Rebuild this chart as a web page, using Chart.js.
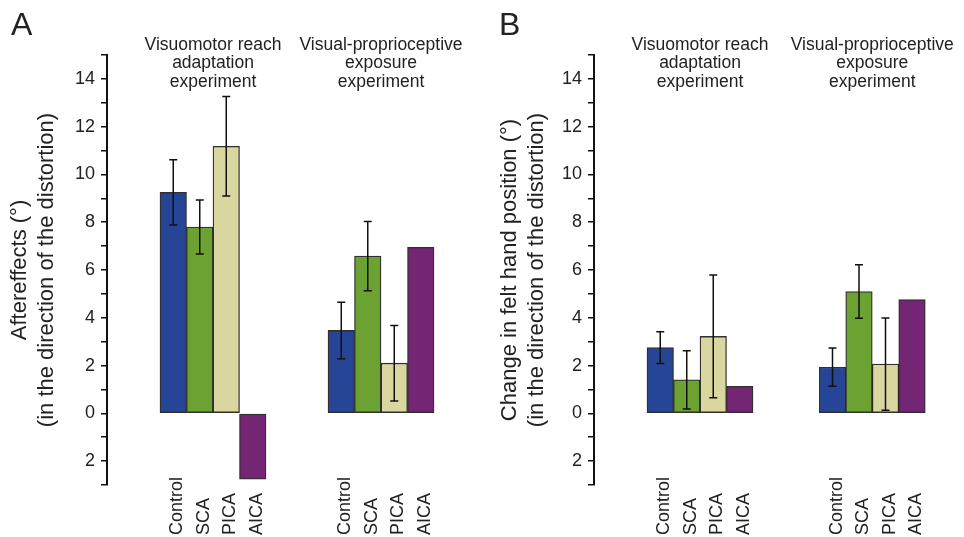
<!DOCTYPE html>
<html>
<head>
<meta charset="utf-8">
<script src="https://cdn.jsdelivr.net/npm/chart.js@4.4.0/dist/chart.umd.min.js"></script>
<style>
  body { margin: 0; background: #fff; }
  #wrap { position: relative; width: 964px; height: 537px; }
  canvas { position: absolute; top: 0; }
  #panelA { left: 0; }
  #panelB { left: 482px; }
</style>
</head>
<body>
<div id="wrap">
  <canvas id="panelA" width="482" height="537"></canvas>
  <canvas id="panelB" width="482" height="537"></canvas>
</div>
<script>
// categories and headings
const groups = ['Control', 'SCA', 'PICA', 'AICA'];
const experimentTitles = [
  ['Visuomotor reach', 'adaptation', 'experiment'],
  ['Visual-proprioceptive', 'exposure', 'experiment']
];

// A: aftereffects (deg), mean and error half-width
const aReach = [9.25, 7.8, 11.18, -2.76];
const aReachErr = [1.37, 1.13, 2.08, null];
const aExposure = [3.47, 6.58, 2.1, 6.95];
const aExposureErr = [1.18, 1.45, 1.58, null];

// B: change in felt hand position (deg)
const bReach = [2.75, 1.4, 3.22, 1.13];
const bReachErr = [0.66, 1.22, 2.57, null];
const bExposure = [1.93, 5.1, 2.06, 4.76];
const bExposureErr = [0.8, 1.12, 1.93, null];

const yMin = -3;
const yMax = 15;

// styles
const groupColors = ['#274597', '#6ca232', '#d9d6a0', '#742573'];
const FONT = "'Liberation Sans', Arial, Helvetica, sans-serif";
const INK = '#222';

function makePanel(cfg) {
    const points = [], colors = [], errs = [], names = [];
    cfg.series.forEach((vals, g) => {
        vals.forEach((v, i) => {
            points.push({ x: g * (groups.length + cfg.groupGap) + i, y: v });
            colors.push(groupColors[i]);
            errs.push(cfg.errors[g][i]);
            names.push(groups[i]);
        });
    });

    const xMin = -0.5 - 2;
    const xMax = 11;
    const slot = 26.5;
    const padRight = 482 - cfg.axisLeft - (xMax - xMin) * slot;

    // error bars, rotated labels, headings, panel letter
    const decor = {
        id: 'decor',
        afterDatasetsDraw(chart) {
            const ctx = chart.ctx;
            const meta = chart.getDatasetMeta(0);
            const y = chart.scales.y;
            ctx.save();

            ctx.strokeStyle = '#111';
            ctx.lineWidth = 1.5;
            meta.data.forEach((bar, k) => {
                const e = errs[k];
                if (e == null) return;
                const v = points[k].y;
                const top = y.getPixelForValue(v + e);
                const bot = y.getPixelForValue(v - e);
                ctx.beginPath();
                ctx.moveTo(bar.x, top); ctx.lineTo(bar.x, bot);
                ctx.moveTo(bar.x - 4, top); ctx.lineTo(bar.x + 4, top);
                ctx.moveTo(bar.x - 4, bot); ctx.lineTo(bar.x + 4, bot);
                ctx.stroke();
            });

            ctx.fillStyle = INK;
            ctx.font = '18px ' + FONT;
            ctx.textAlign = 'left';
            ctx.textBaseline = 'alphabetic';
            meta.data.forEach((bar, k) => {
                ctx.save();
                ctx.translate(bar.x + 9, chart.height - 2);
                ctx.rotate(-Math.PI / 2);
                ctx.fillText(names[k], 0, 0);
                ctx.restore();
            });

            ctx.font = '17.5px ' + FONT;
            ctx.textAlign = 'center';
            experimentTitles.forEach((lines, g) => {
                const first = meta.data[g * groups.length];
                const last = meta.data[(g + 1) * groups.length - 1];
                const cx = (first.x + last.x) / 2;
                lines.forEach((t, j) => ctx.fillText(t, cx, 50 + j * 18.3));
            });

            ctx.font = '32px ' + FONT;
            ctx.textAlign = 'left';
            ctx.fillText(cfg.letter, cfg.letterX, 35);
            ctx.restore();
        }
    };

    return new Chart(document.getElementById(cfg.id), {
        type: 'bar',
        data: {
            datasets: [{
                data: points,
                backgroundColor: colors,
                borderColor: 'rgba(25, 25, 25, 0.9)',
                borderWidth: 1.3,
                borderSkipped: false,
                barPercentage: 1,
                categoryPercentage: 1
            }]
        },
        options: {
            responsive: false,
            animation: false,
            devicePixelRatio: 1,
            layout: { padding: { top: 55, bottom: 52, left: 0, right: padRight } },
            plugins: { legend: { display: false }, tooltip: { enabled: false } },
            scales: {
                x: {
                    type: 'linear',
                    display: false,
                    offset: false,
                    grid: { offset: false },
                    bounds: 'data',
                    min: xMin,
                    max: xMax,
                    ticks: { stepSize: 1, includeBounds: false }
                },
                y: {
                    min: yMin,
                    max: yMax,
                    afterFit: s => { s.width = cfg.axisLeft; },
                    border: { display: true, color: '#111', width: 2 },
                    grid: { drawOnChartArea: false, drawTicks: true, tickLength: 6, color: '#111', lineWidth: 1.5 },
                    ticks: {
                        stepSize: 1,
                        autoSkip: false,
                        padding: 6,
                        color: INK,
                        font: { family: FONT, size: 18 },
                        // negative side is labelled without sign
                        callback: v => (v % 2 === 0 ? String(Math.abs(v)) : '')
                    },
                    title: {
                        display: true,
                        text: cfg.yTitle,
                        color: INK,
                        font: { family: FONT, size: 22, lineHeight: 1.2 },
                        padding: { top: cfg.titlePad, bottom: 0 }
                    }
                }
            }
        },
        plugins: [decor]
    });
}

makePanel({
    id: 'panelA',
    letter: 'A',
    letterX: 11,
    axisLeft: 107,
    groupGap: 2.34,
    titlePad: 7,
    yTitle: ['Aftereffects (°)', '(in the direction of the distortion)'],
    series: [aReach, aExposure],
    errors: [aReachErr, aExposureErr]
});

makePanel({
    id: 'panelB',
    letter: 'B',
    letterX: 17,
    axisLeft: 112,
    groupGap: 2.5,
    titlePad: 15,
    yTitle: ['Change in felt hand position (°)', '(in the direction of the distortion)'],
    series: [bReach, bExposure],
    errors: [bReachErr, bExposureErr]
});
</script>
</body>
</html>
